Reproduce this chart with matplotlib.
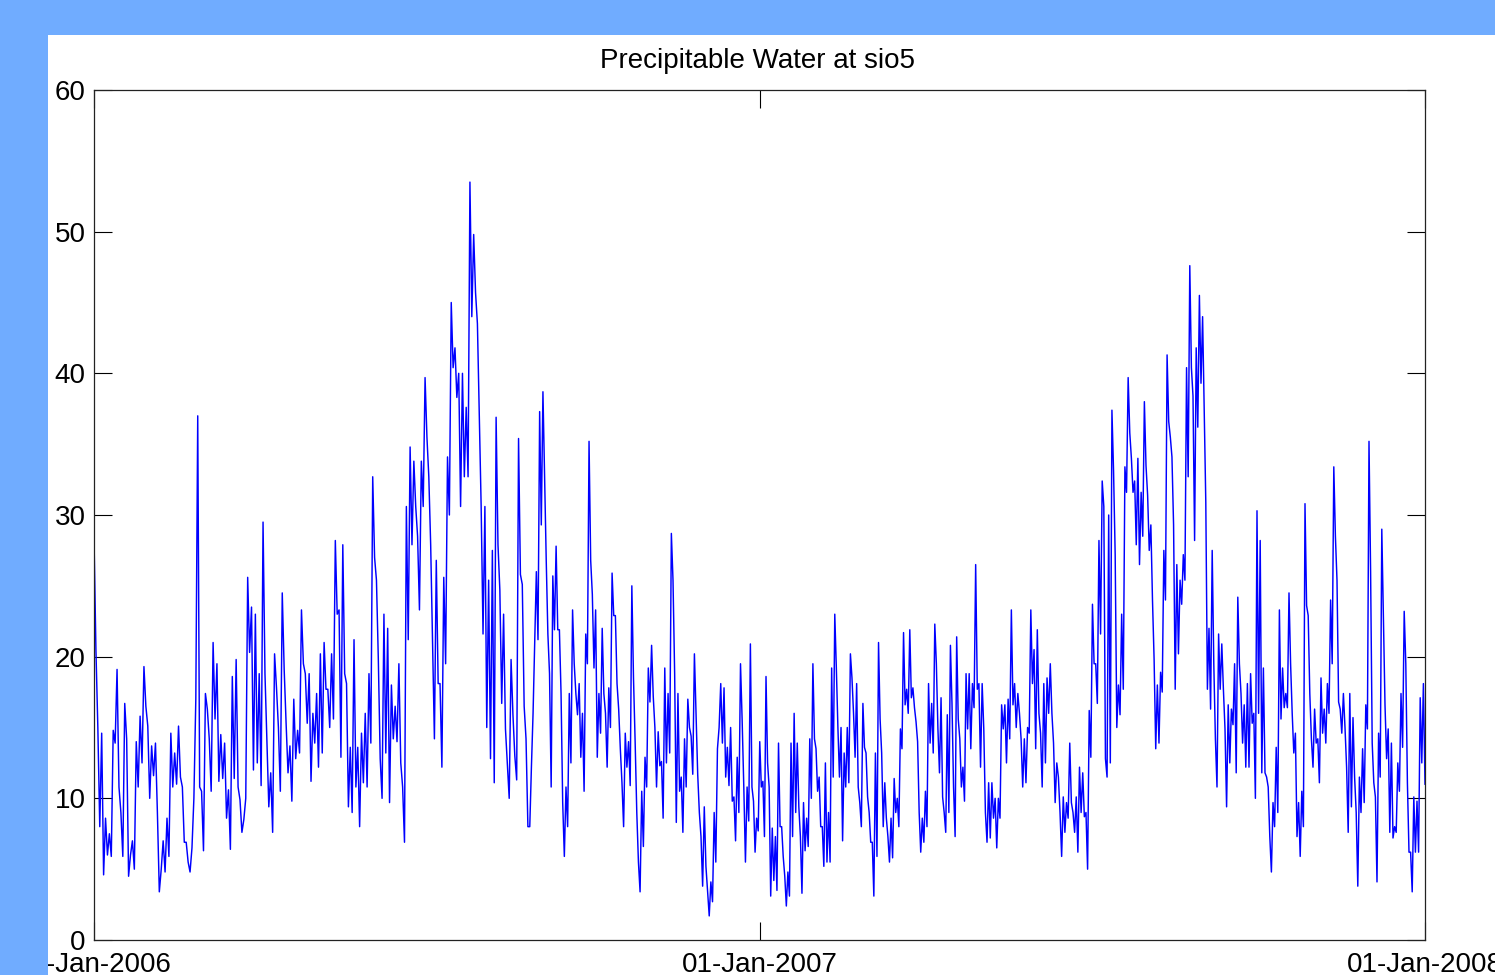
import numpy as np
import pandas as pd
import matplotlib
matplotlib.use('Agg')
import matplotlib.pyplot as plt
from matplotlib.patches import Rectangle

plt.rcParams['font.family'] = ['Liberation Sans', 'DejaVu Sans']

# precipitable water (mm), in blocks of roughly four months
block_starts = ['2006-01-01', '2006-04-29', '2006-08-28', '2006-12-27',
                '2007-04-26', '2007-08-25', '2008-01-01']

pw_jan_apr06 = [28.4, 20.5, 15.0, 8.0, 14.6, 4.6, 8.6, 6.0, 7.5, 5.9, 14.8, 13.9, 19.1, 10.8,
                9.0, 5.9, 16.7, 14.2, 4.5, 6.0, 7.0, 5.0, 14.0, 10.8, 15.8, 12.5, 19.3, 16.5,
                15.1, 10.0, 13.7, 11.6, 13.9, 9.0, 3.4, 5.0, 7.0, 4.8, 8.6, 5.9, 14.6, 10.8,
                13.2, 11.0, 15.1, 11.5, 10.8, 6.9, 6.9, 5.5, 4.8, 6.5, 10.0, 17.0, 37.0, 10.8,
                10.5, 6.3, 17.4, 16.3, 14.2, 10.5, 21.0, 15.6, 19.5, 11.2, 14.5, 11.4, 13.9, 8.6,
                10.6, 6.4, 18.6, 11.4, 19.8, 10.8, 9.9, 7.6, 8.5, 10.0, 25.6, 20.3, 23.5, 12.0,
                23.0, 12.5, 18.8, 10.9, 29.5, 18.8, 14.0, 9.4, 11.8, 7.6, 20.2, 17.8, 15.0, 10.5,
                24.5, 19.1, 15.3, 11.8, 13.7, 9.8, 17.0, 12.8, 14.8, 13.2, 23.3, 19.5, 18.8, 15.3]

pw_may_aug06 = [18.8, 11.2, 16.0, 13.9, 17.4, 12.2, 20.2, 13.2, 21.0, 17.7, 17.7, 15.0, 20.2, 15.6,
                28.2, 23.0, 23.3, 12.9, 27.9, 18.8, 18.1, 9.4, 13.6, 9.0, 21.2, 10.8, 13.6, 8.0,
                14.6, 11.1, 16.0, 10.8, 18.8, 13.9, 32.7, 27.0, 25.4, 19.8, 12.8, 10.0, 23.0, 13.2,
                22.0, 9.7, 18.0, 14.2, 16.5, 14.0, 19.5, 12.5, 10.8, 6.9, 30.6, 21.2, 34.8, 27.9,
                33.8, 30.6, 28.5, 23.3, 33.8, 30.6, 39.7, 35.5, 32.7, 27.9, 21.2, 14.2, 26.8, 18.1,
                18.1, 12.2, 25.6, 19.5, 34.1, 30.0, 45.0, 40.4, 41.8, 38.3, 40.0, 30.6, 40.0, 32.7,
                37.6, 32.7, 53.5, 44.0, 49.8, 45.7, 43.5, 36.9, 30.6, 21.6, 30.6, 15.0, 25.4, 12.8,
                27.5, 11.1, 36.9, 27.9, 24.7, 16.7, 23.0, 14.9, 12.5, 10.0, 19.8, 15.9, 13.0, 11.3,
                35.4, 25.8, 25.1, 16.5, 14.2, 8.0]

pw_sep_dec06 = [8.0, 12.2, 16.0, 21.0, 26.0, 21.2, 37.3, 29.3, 38.7, 32.7, 26.8, 21.6, 18.8, 10.8,
                25.7, 21.9, 27.8, 21.9, 21.9, 17.4, 9.7, 5.9, 10.8, 8.0, 17.4, 12.5, 23.3, 19.5,
                17.4, 15.9, 18.1, 12.9, 16.0, 10.5, 21.6, 19.5, 35.2, 26.8, 24.4, 19.2, 23.3, 12.9,
                17.4, 14.6, 22.0, 17.4, 16.0, 12.2, 17.8, 15.0, 25.9, 22.9, 22.9, 18.1, 16.3, 13.5,
                11.1, 8.0, 14.6, 12.2, 14.0, 10.9, 25.0, 18.5, 14.0, 9.0, 5.5, 3.4, 10.5, 6.6,
                12.9, 10.8, 19.2, 16.8, 20.8, 17.2, 15.0, 10.8, 14.7, 12.3, 12.6, 8.6, 19.2, 12.5,
                17.4, 13.2, 28.7, 25.4, 18.8, 8.3, 17.4, 10.5, 11.5, 7.6, 14.2, 10.8, 17.0, 15.0,
                14.4, 11.7, 20.2, 16.0, 11.7, 9.0, 7.3, 3.8, 9.4, 5.2, 3.4, 1.7, 4.1, 2.7,
                9.0, 5.5, 13.5, 15.0, 18.1, 13.9, 17.8, 11.5, 13.6, 10.9, 15.0, 9.8, 10.1, 7.0,
                12.9, 9.0, 19.5, 15.5, 10.8, 5.5, 10.8, 8.4]

pw_jan_apr07 = [20.9, 10.8, 9.8, 6.2, 8.6, 7.7, 14.0, 10.8, 11.2, 7.3, 18.6, 12.5, 10.8, 3.1,
                7.9, 4.2, 7.3, 3.5, 13.9, 8.0, 8.0, 5.9, 4.5, 2.4, 4.8, 3.1, 13.9, 7.3,
                16.0, 9.0, 13.9, 9.4, 7.3, 3.3, 9.7, 6.3, 8.6, 6.6, 14.2, 10.0, 19.5, 14.2,
                13.5, 10.5, 11.5, 8.0, 8.0, 5.2, 12.5, 5.5, 9.0, 5.5, 19.2, 11.5, 23.0, 19.2,
                15.0, 11.5, 15.0, 7.0, 13.2, 10.8, 15.0, 11.1, 20.2, 18.5, 16.0, 12.9, 18.1, 10.8,
                9.7, 8.0, 16.7, 13.6, 13.2, 10.1, 9.0, 6.9, 6.9, 3.1, 13.2, 5.9, 21.0, 15.6,
                13.2, 8.0, 11.1, 8.6, 7.3, 5.5, 8.6, 5.8, 11.4, 9.0, 10.0, 8.0, 14.9, 13.5,
                21.7, 16.6, 17.7, 16.0, 21.9, 17.1, 17.8, 16.4, 15.4, 14.0, 9.0, 6.2, 8.6, 6.9,
                10.5, 8.0, 18.1, 13.9, 16.7, 13.2, 22.3, 19.5, 14.9, 11.8, 17.1, 10.1, 9.0, 7.6,
                15.9, 9.0, 20.8, 16.7, 10.8, 7.3, 21.4, 15.6, 14.2, 10.8, 12.2, 9.8, 18.8, 14.9]

pw_may_aug07 = [18.8, 13.5, 18.1, 16.4, 26.5, 17.7, 18.1, 12.2, 18.1, 14.9, 9.0, 6.9, 11.1, 7.2,
                11.1, 8.6, 10.0, 6.5, 10.0, 8.6, 16.6, 14.9, 16.6, 12.5, 17.0, 14.2, 23.3, 16.6,
                18.1, 15.0, 17.4, 16.0, 14.2, 10.8, 14.2, 11.1, 15.0, 14.6, 23.3, 18.1, 20.5, 13.5,
                21.9, 16.0, 14.6, 10.8, 18.1, 12.5, 18.5, 16.0, 19.5, 16.0, 13.9, 9.7, 12.5, 11.5,
                9.0, 5.9, 10.1, 7.6, 9.7, 8.6, 13.9, 9.7, 9.0, 7.6, 10.1, 6.2, 12.2, 9.0,
                11.8, 8.7, 9.0, 5.0, 16.2, 12.9, 23.7, 19.5, 19.5, 16.7, 28.2, 21.6, 32.4, 30.6,
                12.8, 11.5, 30.0, 12.5, 37.4, 33.1, 27.2, 15.0, 18.0, 15.9, 23.0, 17.7, 33.4, 31.6,
                39.7, 35.8, 34.0, 31.6, 32.4, 27.9, 34.0, 26.5, 31.6, 28.5, 38.0, 33.5, 31.4, 27.5,
                29.3, 24.0, 19.8, 13.5, 18.0, 13.9, 18.9, 17.5, 27.5, 24.0, 41.3, 36.6, 35.5, 34.1,
                29.3, 17.7, 26.5, 20.2, 25.4, 23.7, 27.2, 25.4, 40.4, 32.7]

pw_sep_dec07 = [47.6, 40.4, 38.4, 28.2, 41.8, 36.2, 45.5, 39.3, 44.0, 37.3, 30.9, 17.7, 22.0, 16.3,
                27.5, 19.5, 14.2, 10.8, 21.6, 17.7, 20.9, 17.7, 14.9, 9.4, 16.6, 12.5, 16.3, 15.2,
                19.5, 11.8, 24.2, 19.5, 17.4, 13.9, 16.6, 12.2, 18.1, 12.2, 18.8, 15.3, 16.0, 10.0,
                30.3, 16.0, 28.2, 11.8, 19.2, 11.8, 11.5, 10.8, 7.3, 4.8, 9.7, 8.0, 13.6, 9.0,
                23.3, 15.6, 19.2, 16.4, 17.4, 16.4, 24.5, 19.5, 16.0, 13.2, 14.6, 7.3, 9.7, 5.9,
                10.5, 8.0, 30.8, 23.6, 22.9, 17.4, 14.2, 12.2, 16.3, 13.9, 14.2, 11.1, 18.5, 14.6,
                16.3, 13.9, 18.1, 16.0, 24.0, 19.5, 33.4, 28.5, 25.4, 16.8, 16.3, 14.6, 17.4, 15.0,
                12.2, 7.6, 17.4, 9.4, 15.7, 11.5, 9.0, 3.8, 11.5, 9.0, 13.5, 9.7, 16.6, 14.9,
                35.2, 26.0, 13.9, 11.1, 10.1, 4.1, 14.6, 11.5, 29.0, 23.0, 16.6, 12.8, 14.9, 7.6,
                13.9, 7.2, 8.0, 7.6, 12.5, 10.5, 17.4, 13.6, 23.2, 19.5, 11.1, 6.2, 6.2, 3.4,
                10.1, 6.2, 9.8, 6.2, 17.1, 12.5, 18.1, 11.0]

blocks = [pw_jan_apr06, pw_may_aug06, pw_sep_dec06, pw_jan_apr07, pw_may_aug07, pw_sep_dec07]
tick_dates = ['2006-01-01', '2007-01-01', '2008-01-01']
tick_labels = ['01-Jan-2006', '01-Jan-2007', '01-Jan-2008']

# spread each block's samples evenly over its date range
times = []
values = []
for i, blk in enumerate(blocks):
    t0 = pd.Timestamp(block_starts[i])
    t1 = pd.Timestamp(block_starts[i + 1])
    last = (i == len(blocks) - 1)
    t = pd.date_range(t0, t1, periods=len(blk) + (0 if last else 1))
    times.extend(t[:len(blk)])
    values.extend(blk)
times = pd.DatetimeIndex(times)

W, H = 1495, 975
fig = plt.figure(figsize=(W / 100, H / 100), dpi=100, facecolor='white')
ax = fig.add_axes([94 / W, 1 - 940 / H, (1425 - 94) / W, (940 - 90) / H])

ax.plot(times, values, color='#0000ff', lw=1.05)

ax.set_xlim(pd.Timestamp('2006-01-01'), pd.Timestamp('2008-01-01'))
ax.set_ylim(0, 60)
ax.set_xticks([pd.Timestamp(d) for d in tick_dates])
ax.set_xticklabels(tick_labels)
ax.set_yticks(range(0, 61, 10))
ax.tick_params(direction='in', length=13, width=0.8, top=True, right=True,
               labelsize=20, colors='black')
ax.tick_params(axis='x', pad=9)
ax.tick_params(axis='y', pad=6)
for s in ax.spines.values():
    s.set_linewidth(0.9)
    s.set_color('#222222')

fig.text(758 / W, 1 - 61 / H, 'Precipitable Water at sio5', ha='center', va='center', fontsize=20)

# blue frame around the figure (covers the left part of the first date label)
frame_col = '#70acff'
fig.add_artist(Rectangle((0, 1 - 35 / H), 1, 35 / H, transform=fig.transFigure,
                         facecolor=frame_col, edgecolor='none', zorder=10))
fig.add_artist(Rectangle((0, 0), 48 / W, 1, transform=fig.transFigure,
                         facecolor=frame_col, edgecolor='none', zorder=10))

fig.savefig('out.png', dpi=100, facecolor=fig.get_facecolor())
